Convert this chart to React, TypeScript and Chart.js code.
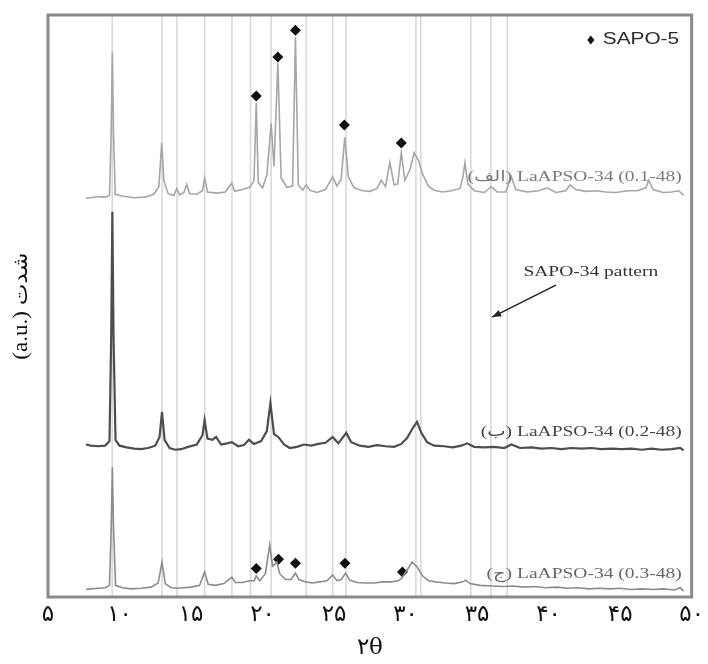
import React, { useEffect, useRef } from 'react';
import { Chart, registerables } from 'chart.js';

Chart.register(...registerables);

// ---------- data ----------
const TICK_VALUES = [5, 10, 15, 20, 25, 30, 35, 40, 45, 50];
const TICK_LABELS = ['۵', '۱۰', '۱۵', '۲۰', '۲۵', '۳۰', '۳۵', '۴۰', '۴۵', '۵۰'];
const X_TITLE = '۲θ';
const Y_TITLE = '(a.u.) شدت';

// SAPO-34 reference reflections (vertical guide lines)
const SAPO34_LINES = [9.49, 12.97, 14.02, 15.95, 17.86, 19.16, 20.6, 23.05, 24.9, 25.84, 30.72, 31.07, 34.56, 35.96, 37.11];

// (الف) LaAPSO-34 (0.1-48)
const TOP_X = [7.65, 8.0, 8.5, 9.0, 9.3, 9.42, 9.5, 9.58, 9.7, 10.2, 11.0, 11.8, 12.4, 12.75, 12.95, 13.1, 13.4, 13.8, 14.0, 14.2, 14.5, 14.7, 14.9, 15.4, 15.8, 15.95, 16.15, 16.8, 17.4, 17.85, 18.05, 18.6, 19.1, 19.4, 19.56, 19.7, 20.0, 20.3, 20.6, 20.8, 21.07, 21.3, 21.7, 22.1, 22.3, 22.5, 22.8, 23.05, 23.3, 23.8, 24.4, 24.9, 25.2, 25.5, 25.75, 26.0, 26.4, 27.0, 27.5, 28.0, 28.3, 28.6, 28.9, 29.2, 29.45, 29.7, 29.95, 30.3, 30.6, 30.9, 31.2, 31.6, 32.0, 32.6, 33.2, 33.8, 34.0, 34.15, 34.35, 34.8, 35.5, 36.0, 36.4, 37.0, 37.4, 37.7, 38.5, 39.3, 39.9, 40.5, 41.2, 41.5, 41.9, 42.6, 43.3, 44.0, 44.7, 45.5, 46.2, 46.8, 47.0, 47.3, 48.0, 48.6, 49.1, 49.44];
const TOP_Y = [68.5, 68.6, 68.8, 68.7, 69.0, 80, 93.6, 80, 69.2, 68.9, 68.6, 68.7, 69.2, 70.5, 78.0, 71.5, 69.3, 69.0, 70.2, 69.1, 69.5, 70.9, 69.3, 69.2, 69.8, 72.0, 69.6, 69.4, 69.6, 71.1, 69.7, 70.0, 70.4, 71.5, 84.9, 71.2, 70.3, 72.5, 81.4, 74.0, 91.8, 72.0, 70.4, 70.6, 96.2, 70.8, 69.9, 70.8, 69.9, 69.5, 70.0, 72.2, 70.6, 71.8, 79.0, 72.2, 70.3, 69.8, 69.7, 70.2, 71.6, 70.5, 74.7, 70.8, 71.0, 76.3, 71.6, 73.4, 76.3, 75.0, 72.6, 70.6, 69.9, 69.6, 69.8, 70.2, 72.0, 74.6, 71.0, 69.8, 69.5, 70.5, 69.6, 69.6, 72.2, 70.0, 69.6, 69.8, 70.3, 69.5, 69.8, 70.8, 70.0, 69.7, 69.8, 69.6, 69.5, 69.8, 69.8, 70.3, 71.6, 70.0, 69.5, 69.6, 69.8, 69.0];

// (ب) LaAPSO-34 (0.2-48)
const MID_X = [7.65, 8.0, 8.5, 9.0, 9.3, 9.42, 9.5, 9.58, 9.72, 10.0, 10.5, 11.0, 11.5, 12.0, 12.5, 12.8, 12.97, 13.15, 13.5, 13.9, 14.3, 14.8, 15.4, 15.8, 15.95, 16.15, 16.5, 16.75, 17.1, 17.5, 17.85, 18.3, 18.7, 19.05, 19.4, 19.9, 20.3, 20.55, 20.8, 21.1, 21.5, 21.9, 22.4, 22.9, 23.4, 23.9, 24.4, 24.9, 25.3, 25.85, 26.2, 26.8, 27.4, 28.0, 28.6, 29.2, 29.7, 30.1, 30.5, 30.8, 31.1, 31.5, 32.0, 32.7, 33.3, 33.9, 34.3, 34.8, 35.5, 36.2, 36.9, 37.4, 38.0, 38.8, 39.5, 40.2, 40.9, 41.6, 42.3, 43.0, 43.7, 44.4, 45.1, 45.8, 46.5, 47.2, 47.9, 48.6, 49.2, 49.44];
const MID_Y = [26.2, 26.0, 25.9, 26.0, 26.8, 45, 66.2, 45, 27.0, 26.0, 25.7, 25.5, 25.4, 25.6, 26.0, 27.5, 31.8, 27.0, 25.6, 25.3, 25.4, 25.8, 26.2, 27.8, 30.4, 27.2, 27.0, 27.5, 26.2, 26.4, 26.6, 25.9, 26.1, 27.0, 26.3, 26.8, 28.5, 33.3, 28.0, 27.5, 26.2, 25.6, 25.8, 26.2, 26.0, 26.3, 26.5, 27.5, 26.4, 28.2, 26.6, 26.0, 25.8, 26.1, 25.9, 25.8, 26.3, 27.3, 29.0, 30.1, 28.2, 26.6, 26.0, 25.9, 25.7, 26.0, 26.4, 25.8, 25.7, 25.8, 25.6, 26.2, 25.6, 25.7, 25.5, 25.6, 25.4, 25.6, 25.5, 25.6, 25.4, 25.5, 25.4, 25.5, 25.3, 25.5, 25.3, 25.4, 25.6, 25.2];

// (ج) LaAPSO-34 (0.3-48)
const BOT_X = [7.65, 8.0, 8.5, 9.0, 9.3, 9.42, 9.5, 9.58, 9.72, 10.2, 10.8, 11.5, 12.2, 12.7, 12.97, 13.2, 13.6, 14.0, 14.5, 15.0, 15.6, 15.95, 16.2, 16.7, 17.3, 17.85, 18.1, 18.6, 19.1, 19.4, 19.56, 19.8, 20.2, 20.5, 20.7, 20.85, 21.0, 21.2, 21.6, 22.0, 22.3, 22.55, 23.0, 23.5, 24.0, 24.5, 24.9, 25.2, 25.5, 25.8, 26.1, 26.6, 27.2, 27.8, 28.4, 29.0, 29.5, 29.75, 30.1, 30.45, 30.8, 31.2, 31.6, 32.1, 32.8, 33.4, 34.0, 34.2, 34.5, 35.2, 36.0, 36.8, 37.5, 38.3, 39.0, 39.8, 40.6, 41.3, 42.0, 42.8, 43.5, 44.3, 45.0, 45.8, 46.5, 47.3, 48.0, 48.8, 49.2, 49.44];
const BOT_Y = [1.3, 1.4, 1.5, 1.6, 2.0, 12, 22.3, 12, 2.0, 1.6, 1.4, 1.5, 1.7, 2.4, 6.0, 2.3, 1.6, 1.5, 1.6, 1.7, 2.0, 4.3, 2.2, 2.0, 2.3, 3.4, 2.5, 2.5, 2.8, 2.8, 3.6, 2.8, 4.0, 8.9, 5.3, 5.6, 6.0, 4.0, 3.0, 3.0, 4.1, 3.0, 2.6, 2.4, 2.6, 2.8, 3.8, 2.8, 3.0, 4.1, 2.9, 2.5, 2.4, 2.4, 2.6, 2.6, 2.8, 3.3, 4.6, 6.0, 5.2, 3.6, 2.8, 2.6, 2.4, 2.3, 2.6, 2.9, 2.3, 2.0, 1.9, 1.8, 1.9, 1.7, 1.8, 1.6, 1.7, 1.5, 1.6, 1.4, 1.5, 1.4, 1.5, 1.3, 1.4, 1.3, 1.4, 1.2, 1.6, 1.0];

// SAPO-5 markers
const SAPO5_TOP_X = [19.56, 21.07, 22.3, 25.72, 29.7];
const SAPO5_TOP_Y = [86.1, 92.8, 97.4, 81.1, 78.0];
const SAPO5_BOT_X = [19.56, 21.12, 22.3, 25.76, 29.78];
const SAPO5_BOT_Y = [4.9, 6.5, 5.8, 5.8, 4.3];

const SERIES_TAGS = ['الف', 'ب', 'ج'];
const SERIES_NAMES = ['LaAPSO-34 (0.1-48)', 'LaAPSO-34 (0.2-48)', 'LaAPSO-34 (0.3-48)'];
const SERIES_LABEL_Y = [72.2, 28.35, 3.95];
const SERIES_LABEL_X = 49.3;
const LEGEND_TEXT = 'SAPO-5';
const LEGEND_POS = [42.95, 95.7];
const PATTERN_TEXT = 'SAPO-34 pattern';
const PATTERN_POS = [42.95, 55.8];
const ARROW_FROM = [40.51, 53.6];
const ARROW_TO = [36.05, 48.1];

const pts = (xs: number[], ys: number[]) => xs.map((x, i) => ({ x, y: ys[i] }));

const SERIF = "'Liberation Serif', 'DejaVu Serif', 'DejaVu Sans', serif";
const SANS = "'Liberation Sans', Arial, 'DejaVu Sans', sans-serif";
const STRETCH = 1.3;

function stretchedText(ctx: CanvasRenderingContext2D, text: string, x: number, y: number, align: CanvasTextAlign, font: string, color: string) {
  ctx.save();
  ctx.translate(x, y);
  ctx.scale(STRETCH, 1);
  ctx.font = font;
  ctx.fillStyle = color;
  ctx.textAlign = align;
  ctx.textBaseline = 'middle';
  ctx.direction = 'ltr';
  ctx.fillText(text, 0, 0);
  ctx.restore();
}

// "(tag) name" drawn piecewise so the brackets stay where they are in the figure
function seriesLabel(ctx: CanvasRenderingContext2D, tag: string, name: string, right: number, y: number, font: string, color: string) {
  ctx.save();
  ctx.font = font;
  const pieces = ['(', tag, ') ', name];
  const widths = pieces.map((p) => ctx.measureText(p).width * STRETCH);
  const total = widths.reduce((a, b) => a + b, 0);
  let x = right - total;
  pieces.forEach((p, i) => {
    stretchedText(ctx, p, x, y, 'left', font, color);
    x += widths[i];
  });
  ctx.restore();
}

const decorPlugin = {
  id: 'decor',
  beforeDatasetsDraw(chart: any) {
    const { ctx, chartArea: a, scales } = chart;
    ctx.save();
    ctx.strokeStyle = '#d9d9d9';
    ctx.lineWidth = 1.6;
    SAPO34_LINES.forEach((v) => {
      const x = scales.x.getPixelForValue(v);
      ctx.beginPath();
      ctx.moveTo(x, a.top);
      ctx.lineTo(x, a.bottom);
      ctx.stroke();
    });
    ctx.restore();
  },
  afterDraw(chart: any) {
    const { ctx, chartArea: a, scales } = chart;
    const X = (v: number) => scales.x.getPixelForValue(v);
    const Y = (v: number) => scales.y.getPixelForValue(v);
    ctx.save();
    // frame
    ctx.strokeStyle = '#8a8a8a';
    ctx.lineWidth = 3;
    ctx.strokeRect(a.left, a.top, a.right - a.left, a.bottom - a.top);

    // series labels
    const colors = ['#7a7a7a', '#444444', '#666666'];
    SERIES_NAMES.forEach((t, i) => {
      seriesLabel(ctx, SERIES_TAGS[i], t, X(SERIES_LABEL_X), Y(SERIES_LABEL_Y[i]), `15px ${SERIF}`, colors[i]);
    });

    // legend
    const lx = X(LEGEND_POS[0]);
    const ly = Y(LEGEND_POS[1]);
    ctx.fillStyle = '#111';
    ctx.beginPath();
    ctx.moveTo(lx, ly - 4.5);
    ctx.lineTo(lx + 3.5, ly);
    ctx.lineTo(lx, ly + 4.5);
    ctx.lineTo(lx - 3.5, ly);
    ctx.closePath();
    ctx.fill();
    stretchedText(ctx, LEGEND_TEXT, lx + 12, ly, 'left', `16px ${SANS}`, '#2a2a2a');

    // SAPO-34 pattern annotation
    stretchedText(ctx, PATTERN_TEXT, X(PATTERN_POS[0]), Y(PATTERN_POS[1]), 'center', `15px ${SERIF}`, '#333');
    const x1 = X(ARROW_FROM[0]), y1 = Y(ARROW_FROM[1]);
    const x2 = X(ARROW_TO[0]), y2 = Y(ARROW_TO[1]);
    ctx.strokeStyle = '#222';
    ctx.fillStyle = '#222';
    ctx.lineWidth = 1.5;
    ctx.beginPath();
    ctx.moveTo(x1, y1);
    ctx.lineTo(x2, y2);
    ctx.stroke();
    const ang = Math.atan2(y2 - y1, x2 - x1);
    const L = 9, W = 3.5;
    ctx.beginPath();
    ctx.moveTo(x2, y2);
    ctx.lineTo(x2 - L * Math.cos(ang) + W * Math.sin(ang), y2 - L * Math.sin(ang) - W * Math.cos(ang));
    ctx.lineTo(x2 - L * Math.cos(ang) - W * Math.sin(ang), y2 - L * Math.sin(ang) + W * Math.cos(ang));
    ctx.closePath();
    ctx.fill();

    // y title
    ctx.translate(22, (a.top + a.bottom) / 2);
    ctx.rotate(-Math.PI / 2);
    ctx.scale(1.15, 1);
    ctx.font = `20px ${SERIF}`;
    ctx.fillStyle = '#111';
    ctx.textAlign = 'center';
    ctx.textBaseline = 'middle';
    ctx.direction = 'ltr';
    ctx.fillText(Y_TITLE, 0, 0);
    ctx.restore();
  },
};

export default function App() {
  const ref = useRef<HTMLCanvasElement | null>(null);
  useEffect(() => {
    if (!ref.current) return;
    const chart = new Chart(ref.current, {
      type: 'line',
      data: {
        datasets: [
          { label: 'top', data: pts(TOP_X, TOP_Y), borderColor: '#a6a6a6', borderWidth: 1.6, pointRadius: 0, tension: 0 },
          { label: 'mid', data: pts(MID_X, MID_Y), borderColor: '#4d4d4d', borderWidth: 2.2, pointRadius: 0, tension: 0 },
          { label: 'bot', data: pts(BOT_X, BOT_Y), borderColor: '#8c8c8c', borderWidth: 1.6, pointRadius: 0, tension: 0 },
          { label: 'SAPO-5 a', data: pts(SAPO5_TOP_X, SAPO5_TOP_Y), showLine: false, pointStyle: 'rectRot', pointRadius: 5.5, backgroundColor: '#111', borderColor: '#111', borderWidth: 0 },
          { label: 'SAPO-5 c', data: pts(SAPO5_BOT_X, SAPO5_BOT_Y), showLine: false, pointStyle: 'rectRot', pointRadius: 5.5, backgroundColor: '#111', borderColor: '#111', borderWidth: 0 },
        ] as any,
      },
      options: {
        responsive: false,
        animation: false,
        layout: { padding: { left: 48, right: 15, top: 15, bottom: 0 } },
        plugins: { legend: { display: false }, tooltip: { enabled: false } },
        scales: {
          x: {
            type: 'linear',
            min: 5,
            max: 50,
            afterBuildTicks: (s: any) => { s.ticks = TICK_VALUES.map((value) => ({ value })); },
            afterFit: (s: any) => { s.height = 67; },
            grid: { display: false, drawTicks: false },
            border: { display: false },
            ticks: {
              autoSkip: false,
              maxRotation: 0,
              padding: 4,
              color: '#111',
              font: { size: 23, family: "'DejaVu Sans', sans-serif" },
              callback: (v: any) => TICK_LABELS[TICK_VALUES.indexOf(Number(v))] ?? '',
            },
            title: { display: true, text: X_TITLE, color: '#111', font: { size: 23, family: "'DejaVu Serif', serif" }, padding: { top: 0, bottom: 2 } },
          },
          y: { type: 'linear', min: 0, max: 100, display: false },
        },
      } as any,
      plugins: [decorPlugin],
    });
    return () => chart.destroy();
  }, []);
  return (
    <div style={{ position: 'fixed', left: 0, top: 0, width: 708, height: 664, background: '#fff' }}>
      <canvas ref={ref} width={708} height={664} style={{ display: 'block' }} />
    </div>
  );
}
